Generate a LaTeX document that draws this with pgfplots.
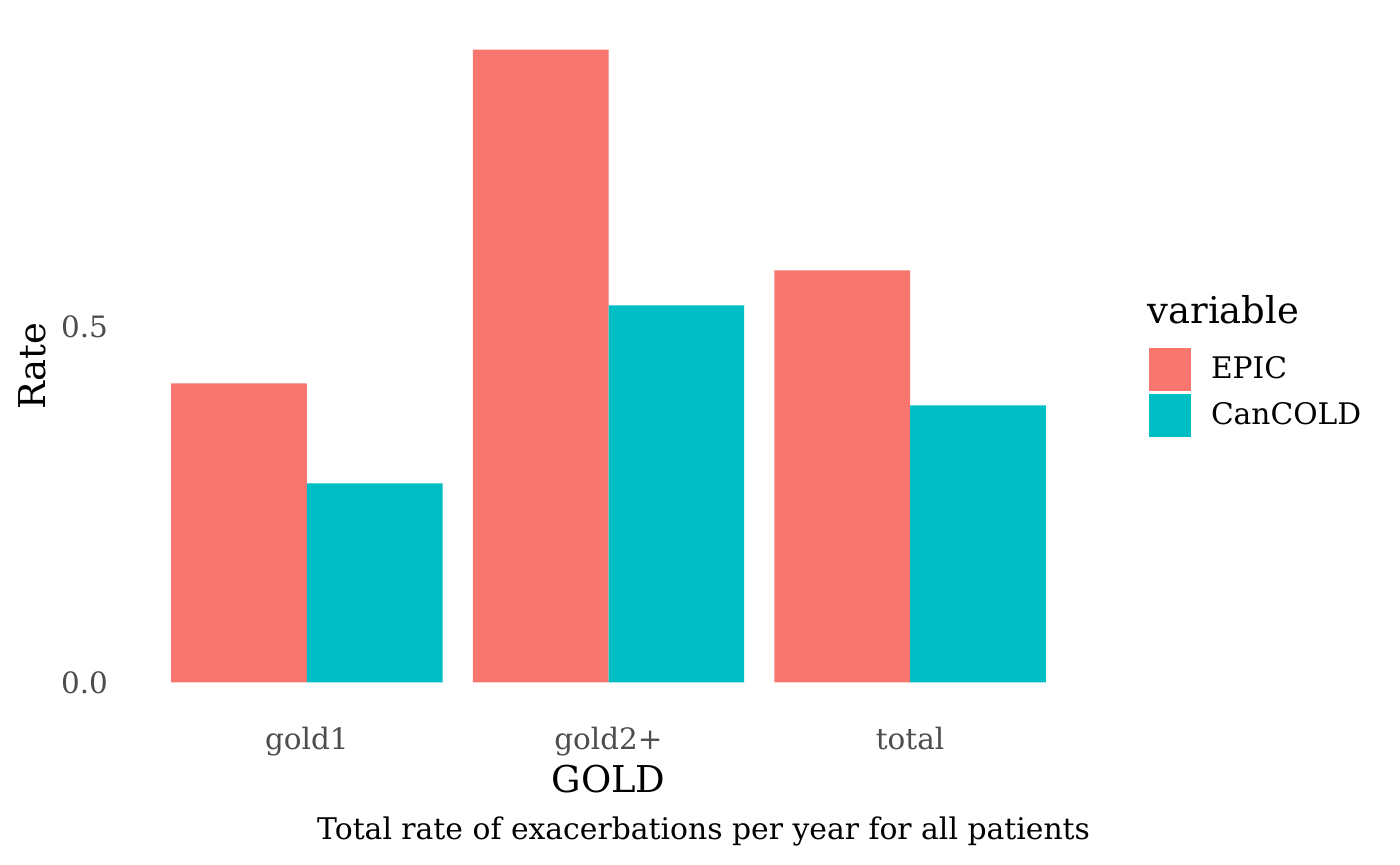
\documentclass[border=0pt]{standalone}
\usepackage{pgfplots}
\pgfplotsset{compat=1.18}
\usepackage{fontspec}
\setmainfont{DejaVu Serif}
\definecolor{epic}{HTML}{F8766D}
\definecolor{cancold}{HTML}{00BFC4}
\definecolor{tickgray}{HTML}{4D4D4D}
\pgfplotsset{keyimg/.style={legend image code/.code={\fill[##1] (0bp,-7.7bp) rectangle (15.12bp,7.7bp);}}}
\begin{document}
\begin{tikzpicture}
\path (0,0) rectangle (504bp,311.4bp);
\begin{axis}[
 at={(45.36bp,54.36bp)}, anchor=south west,
 scale only axis, width=347.4bp, height=250.56bp,
 xmin=0.4, xmax=3.6, ymin=-0.0445, ymax=0.9346,
 xtick={1,2,3}, xticklabels={gold1,gold2+,total},
 ytick={0,0.5}, yticklabels={0.0,0.5},
 axis line style={draw=none}, major tick length=0pt, tick style={draw=none},
 ybar, bar width=0.45,
 tick label style={font=\fontsize{10.6bp}{12bp}\selectfont, text=tickgray, inner sep=0pt},
 xticklabel style={anchor=base, yshift=-12.96bp},
 yticklabel style={anchor=east, xshift=-6.3bp},
 xlabel={GOLD}, ylabel={Rate},
 label style={font=\fontsize{13.3bp}{15bp}\selectfont},
 xlabel style={at={(axis description cs:0.5,-0.1131)}, anchor=base},
 ylabel style={at={(axis description cs:-0.0839,0.5)}, anchor=base},
 legend style={at={(axis description cs:1.0601,0.5259)}, anchor=north west, draw=none, fill=none, inner sep=0pt, outer sep=0pt, row sep=1.16bp, column sep=7.2bp, font=\fontsize{10.7bp}{12bp}\selectfont, nodes={inner sep=0pt}},
 legend cell align=left,
]
\addplot[fill=epic, draw=none, bar shift=-0.225, keyimg] coordinates {(1,0.4206) (2,0.8901) (3,0.5795)};
\addplot[fill=cancold, draw=none, bar shift=0.225, keyimg] coordinates {(1,0.2799) (2,0.5303) (3,0.3896)};
\legend{EPIC,CanCOLD}
\end{axis}
\node[anchor=base west, inner sep=0pt, font=\fontsize{13.3bp}{15bp}\selectfont] at (412.9bp,194.8bp) {variable};
\node[anchor=base, inner sep=0pt, font=\fontsize{10.73bp}{12bp}\selectfont] at (253.3bp,9bp) {Total rate of exacerbations per year for all patients};
\end{tikzpicture}
\end{document}
